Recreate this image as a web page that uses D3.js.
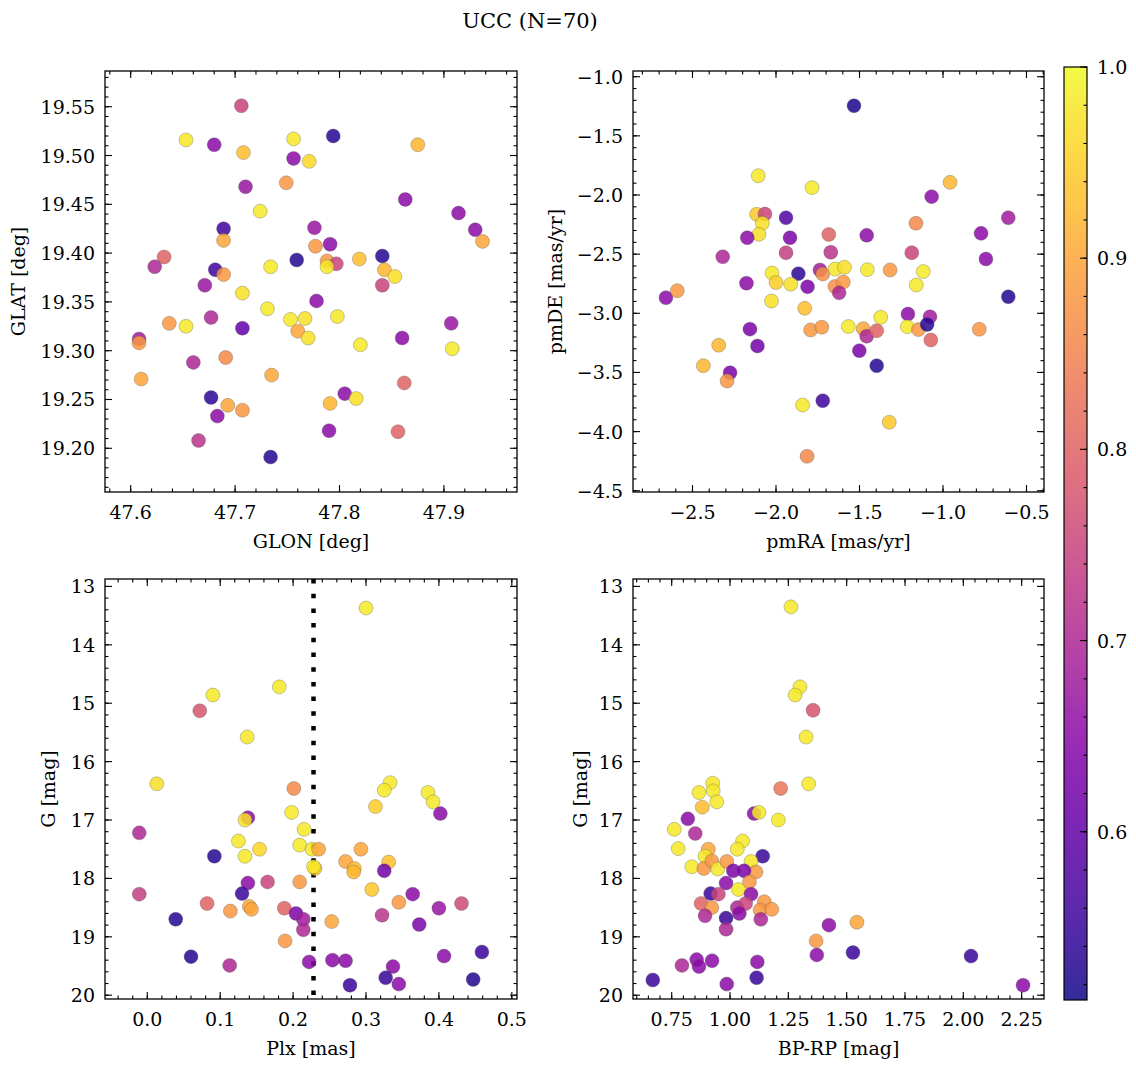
<!DOCTYPE html>
<html><head><meta charset="utf-8">
<script src="https://cdn.jsdelivr.net/npm/d3@7"></script>
<style>body{margin:0;background:#fff}svg{display:block}text{font-family:"DejaVu Serif",serif;fill:#000}</style>
</head><body><svg id="c" width="1136" height="1067"></svg>
<script>
// ---------- data ----------
const glon = [47.706,47.653,47.680,47.756,47.708,47.756,47.771,47.794,47.875,47.710,47.749,47.724,47.776,47.689,47.689,47.632,47.623,47.681,47.689,47.734,47.759,47.777,47.863,47.914,47.930,47.937,47.791,47.788,47.797,47.788,47.819,47.841,47.843,47.853,47.841,47.671,47.707,47.778,47.731,47.637,47.653,47.677,47.707,47.753,47.767,47.760,47.770,47.608,47.608,47.660,47.691,47.610,47.735,47.677,47.693,47.707,47.683,47.665,47.734,47.798,47.820,47.860,47.907,47.908,47.862,47.805,47.816,47.791,47.790,47.856];
const glat = [19.551,19.516,19.511,19.517,19.503,19.497,19.494,19.520,19.511,19.468,19.472,19.443,19.426,19.425,19.413,19.396,19.386,19.383,19.378,19.386,19.393,19.407,19.455,19.441,19.424,19.412,19.409,19.392,19.389,19.386,19.394,19.397,19.383,19.376,19.367,19.367,19.359,19.351,19.343,19.328,19.325,19.334,19.323,19.332,19.333,19.320,19.313,19.312,19.308,19.288,19.293,19.271,19.275,19.252,19.244,19.239,19.233,19.208,19.191,19.335,19.306,19.313,19.328,19.302,19.267,19.256,19.251,19.246,19.218,19.217];
const probPos = [0.75,0.98,0.65,0.98,0.93,0.65,0.96,0.53,0.92,0.67,0.88,0.98,0.67,0.56,0.9,0.8,0.7,0.56,0.88,0.98,0.53,0.88,0.65,0.65,0.65,0.9,0.65,0.88,0.75,0.98,0.93,0.53,0.92,0.97,0.75,0.67,0.97,0.65,0.98,0.88,0.98,0.7,0.6,0.98,0.97,0.9,0.97,0.68,0.88,0.7,0.86,0.9,0.9,0.54,0.9,0.88,0.65,0.72,0.53,0.98,0.98,0.65,0.67,0.98,0.8,0.65,0.97,0.92,0.65,0.8];

const pmra = [-1.533,-2.106,-1.784,-0.958,-1.068,-0.609,-2.116,-2.066,-2.082,-2.102,-2.172,-1.940,-1.916,-1.940,-2.319,-1.684,-1.457,-1.162,-0.772,-1.672,-1.187,-0.743,-2.024,-2.000,-1.866,-1.912,-1.811,-2.177,-1.737,-1.720,-1.646,-1.590,-1.647,-1.597,-1.622,-1.453,-1.317,-1.118,-1.160,-2.027,-1.828,-2.659,-2.591,-2.156,-2.111,-2.343,-1.793,-1.726,-1.567,-1.478,-1.457,-1.397,-1.373,-1.210,-1.214,-1.147,-1.078,-1.095,-1.073,-1.501,-0.609,-1.397,-0.783,-1.841,-1.720,-1.322,-1.814,-2.435,-2.275,-2.293];
const pmde = [-1.245,-1.837,-1.938,-1.893,-2.014,-2.192,-2.163,-2.161,-2.239,-2.332,-2.361,-2.192,-2.361,-2.488,-2.522,-2.334,-2.341,-2.239,-2.324,-2.484,-2.488,-2.541,-2.659,-2.740,-2.665,-2.754,-2.775,-2.746,-2.634,-2.668,-2.626,-2.611,-2.773,-2.735,-2.827,-2.631,-2.634,-2.647,-2.761,-2.896,-2.958,-2.868,-2.809,-3.134,-3.276,-3.270,-3.141,-3.118,-3.112,-3.130,-3.194,-3.147,-3.034,-3.006,-3.113,-3.138,-3.029,-3.095,-3.226,-3.316,-2.860,-3.443,-3.135,-3.775,-3.739,-3.921,-4.209,-3.443,-3.502,-3.572];
const probPm = [0.52,0.98,0.98,0.92,0.65,0.68,0.94,0.75,0.97,0.97,0.65,0.58,0.63,0.74,0.7,0.8,0.65,0.86,0.65,0.72,0.75,0.65,0.98,0.95,0.54,0.97,0.63,0.65,0.68,0.87,0.98,0.97,0.87,0.88,0.7,0.98,0.88,0.98,0.98,0.97,0.93,0.65,0.88,0.63,0.62,0.92,0.88,0.88,0.98,0.9,0.7,0.8,0.98,0.65,0.98,0.88,0.68,0.53,0.8,0.63,0.53,0.53,0.88,0.98,0.56,0.94,0.86,0.92,0.63,0.88];

const plx = [0.300,0.072,0.090,0.181,0.137,0.013,0.201,-0.011,0.138,0.134,0.198,0.215,0.125,0.154,0.134,0.092,0.209,0.226,0.235,0.230,0.228,-0.011,0.138,0.130,0.165,0.209,0.082,0.114,0.140,0.143,0.188,0.204,0.214,0.214,0.189,0.039,0.060,0.113,0.222,0.333,0.325,0.385,0.392,0.402,0.313,0.293,0.272,0.284,0.283,0.331,0.325,0.308,0.364,0.345,0.400,0.431,0.322,0.373,0.253,0.254,0.272,0.337,0.327,0.345,0.278,0.407,0.459,0.447];
const gPlx = [13.37,15.13,14.86,14.72,15.58,16.38,16.46,17.22,16.96,17.00,16.87,17.16,17.36,17.50,17.62,17.62,17.43,17.50,17.50,17.83,17.80,18.27,18.08,18.26,18.06,18.06,18.43,18.56,18.48,18.53,18.51,18.60,18.70,18.88,19.07,18.70,19.34,19.49,19.43,16.36,16.49,16.53,16.69,16.89,16.77,17.50,17.71,17.83,17.89,17.72,17.87,18.19,18.27,18.41,18.51,18.43,18.63,18.79,18.74,19.40,19.41,19.51,19.70,19.81,19.83,19.33,19.26,19.73];
const probPlx = [0.98,0.78,0.98,0.98,0.98,0.97,0.86,0.7,0.65,0.97,0.98,0.98,0.98,0.96,0.98,0.53,0.98,0.98,0.9,0.94,0.98,0.74,0.65,0.55,0.75,0.88,0.8,0.88,0.9,0.9,0.8,0.63,0.68,0.7,0.88,0.53,0.53,0.7,0.65,0.98,0.98,0.98,0.98,0.65,0.95,0.9,0.9,0.93,0.92,0.93,0.62,0.94,0.65,0.88,0.67,0.76,0.72,0.63,0.9,0.65,0.65,0.65,0.55,0.65,0.55,0.65,0.55,0.53];
const plxCut = 0.228;

const bprp = [0.926,0.867,0.928,0.943,0.881,1.217,1.337,1.103,1.124,1.207,0.819,0.761,0.851,1.054,1.031,0.778,0.907,0.893,1.140,0.836,0.888,0.922,0.947,0.986,1.090,1.111,1.014,1.060,1.083,0.983,1.036,1.090,0.917,0.950,0.876,0.922,0.893,1.031,1.067,1.040,1.147,1.129,1.179,1.132,0.983,0.983,1.369,1.372,1.117,1.114,0.986,0.857,0.867,0.923,0.794,0.669,1.261,1.300,1.279,1.356,1.326,1.544,1.424,1.527,2.033,2.256];
const gCmd = [16.37,16.53,16.50,16.69,16.78,16.46,16.38,16.89,16.87,17.00,16.98,17.16,17.23,17.36,17.50,17.49,17.50,17.62,17.62,17.80,17.83,17.70,17.84,17.71,17.71,17.89,17.87,17.87,18.06,18.08,18.19,18.27,18.26,18.27,18.43,18.50,18.64,18.50,18.43,18.60,18.40,18.54,18.53,18.70,18.68,18.87,19.07,19.31,19.43,19.70,19.81,19.39,19.51,19.41,19.49,19.74,13.35,14.72,14.86,15.12,15.58,18.75,18.80,19.27,19.33,19.83];
const probCmd = [0.98,0.98,0.98,0.98,0.93,0.83,0.98,0.65,0.98,0.98,0.65,0.98,0.7,0.98,0.98,0.98,0.9,0.98,0.55,0.98,0.88,0.88,0.98,0.88,0.98,0.88,0.63,0.63,0.88,0.65,0.98,0.65,0.55,0.75,0.8,0.88,0.7,0.7,0.75,0.65,0.88,0.88,0.88,0.7,0.55,0.7,0.88,0.65,0.65,0.55,0.65,0.65,0.65,0.65,0.7,0.55,0.98,0.98,0.98,0.78,0.98,0.9,0.65,0.55,0.55,0.65];

const cbTicks = [0.6,0.7,0.8,0.9,1.0];
const titleText = "UCC (N=70)";

// ---------- drawing ----------
const svg = d3.select("#c");
const pMin = 0.512, pMax = 1.0;
const cmap = d3.scaleSequential(d3.interpolatePlasma).domain([pMin, pMax]);
const FS = 19;

function steps(lo, hi, step){
  const a = Math.ceil(lo/step - 1e-6), b = Math.floor(hi/step + 1e-6), out=[];
  for(let i=a;i<=b;i++) out.push(+(i*step).toFixed(6));
  return out;
}

function panel(o){
  const g = svg.append("g");
  const x = d3.scaleLinear().domain(o.xd).range([o.x0, o.x1]);
  const y = d3.scaleLinear().domain(o.yd).range([o.y1, o.y0]);
  if (o.vline !== undefined){
    g.append("line").attr("x1", x(o.vline)).attr("x2", x(o.vline))
      .attr("y1", o.y0).attr("y2", o.y1)
      .attr("stroke","#000").attr("stroke-width",4.5).attr("stroke-dasharray","4.5,10.2");
  }
  g.append("g").selectAll("circle").data(d3.range(o.xs.length)).join("circle")
    .attr("cx", i=>x(o.xs[i])).attr("cy", i=>y(o.ys[i])).attr("r", 7)
    .attr("fill", i=>cmap(o.ps[i])).attr("fill-opacity", 0.85)
    .attr("stroke", "#555").attr("stroke-opacity", 0.55).attr("stroke-width", 0.6);
  g.append("rect").attr("x",o.x0).attr("y",o.y0).attr("width",o.x1-o.x0).attr("height",o.y1-o.y0)
    .attr("fill","none").attr("stroke","#000").attr("stroke-width",1.3);
  const xlo=Math.min(...o.xd), xhi=Math.max(...o.xd), ylo=Math.min(...o.yd), yhi=Math.max(...o.yd);
  const tk = g.append("g").attr("stroke","#000").attr("stroke-width",1.1);
  const drawX = (vals, len) => vals.forEach(v=>{
    const px=x(v);
    tk.append("line").attr("x1",px).attr("x2",px).attr("y1",o.y1).attr("y2",o.y1-len);
    tk.append("line").attr("x1",px).attr("x2",px).attr("y1",o.y0).attr("y2",o.y0+len);
  });
  const drawY = (vals, len) => vals.forEach(v=>{
    const py=y(v);
    tk.append("line").attr("y1",py).attr("y2",py).attr("x1",o.x0).attr("x2",o.x0+len);
    tk.append("line").attr("y1",py).attr("y2",py).attr("x1",o.x1).attr("x2",o.x1-len);
  });
  const xMaj = steps(xlo, xhi, o.xStep), yMaj = steps(ylo, yhi, o.yStep);
  drawX(steps(xlo, xhi, o.xStep/5), 3.5); drawX(xMaj, 7);
  drawY(steps(ylo, yhi, o.yStep/5), 3.5); drawY(yMaj, 7);
  const fx = d3.format(o.xFmt), fy = d3.format(o.yFmt);
  g.append("g").selectAll("text").data(xMaj).join("text")
    .attr("x", d=>x(d)).attr("y", o.y1+27).attr("text-anchor","middle").attr("font-size",FS).text(d=>fx(d));
  g.append("g").selectAll("text").data(yMaj).join("text")
    .attr("x", o.x0-10).attr("y", d=>y(d)+7).attr("text-anchor","end").attr("font-size",FS).text(d=>fy(d));
  g.append("text").attr("x",(o.x0+o.x1)/2).attr("y",o.y1+56).attr("text-anchor","middle")
    .attr("font-size",FS).text(o.xlabel);
  g.append("text").attr("transform",`translate(${o.ylx},${(o.y0+o.y1)/2}) rotate(-90)`)
    .attr("text-anchor","middle").attr("font-size",FS).text(o.ylabel);
}

panel({x0:105,x1:517,y0:71,y1:492, xd:[47.5754,47.970], yd:[19.1552,19.5866],
  xStep:0.1, yStep:0.05, xFmt:".1f", yFmt:".2f", xs:glon, ys:glat, ps:probPos,
  xlabel:"GLON [deg]", ylabel:"GLAT [deg]", ylx:25});
panel({x0:633,x1:1044,y0:71,y1:492, xd:[-2.8563,-0.3952], yd:[-4.5106,-0.9518],
  xStep:0.5, yStep:0.5, xFmt:".1f", yFmt:".1f", xs:pmra, ys:pmde, ps:probPm,
  xlabel:"pmRA [mas/yr]", ylabel:"pmDE [mas/yr]", ylx:562});
panel({x0:105,x1:517,y0:579,y1:999, xd:[-0.058,0.5071], yd:[20.065,12.873],
  xStep:0.1, yStep:1, xFmt:".1f", yFmt:"d", xs:plx, ys:gPlx, ps:probPlx, vline:plxCut,
  xlabel:"Plx [mas]", ylabel:"G [mag]", ylx:55});
panel({x0:633,x1:1044,y0:579,y1:999, xd:[0.5841,2.3458], yd:[20.065,12.873],
  xStep:0.25, yStep:1, xFmt:".2f", yFmt:"d", xs:bprp, ys:gCmd, ps:probCmd,
  xlabel:"BP-RP [mag]", ylabel:"G [mag]", ylx:587});

// colorbar
const cb = {x0:1064, x1:1087, y0:67, y1:1000};
const cy = d3.scaleLinear().domain([pMin,pMax]).range([cb.y1, cb.y0]);
const defs = svg.append("defs");
const grad = defs.append("linearGradient").attr("id","cbg").attr("x1",0).attr("x2",0).attr("y1",1).attr("y2",0);
d3.range(0,1.0001,0.02).forEach(t=>grad.append("stop").attr("offset",t).attr("stop-color",d3.interpolatePlasma(t)));
svg.append("rect").attr("x",cb.x0).attr("y",cb.y0).attr("width",cb.x1-cb.x0).attr("height",cb.y1-cb.y0)
  .attr("fill","url(#cbg)").attr("fill-opacity",0.85);
svg.append("rect").attr("x",cb.x0).attr("y",cb.y0).attr("width",cb.x1-cb.x0).attr("height",cb.y1-cb.y0)
  .attr("fill","none").attr("stroke","#000").attr("stroke-width",1.2);
const cbt = svg.append("g").attr("stroke","#000").attr("stroke-width",1.1);
steps(pMin,pMax,0.02).forEach(v=>cbt.append("line").attr("x1",cb.x1).attr("x2",cb.x1-3.5).attr("y1",cy(v)).attr("y2",cy(v)));
cbTicks.forEach(v=>cbt.append("line").attr("x1",cb.x1).attr("x2",cb.x1-7).attr("y1",cy(v)).attr("y2",cy(v)));
svg.append("g").selectAll("text").data(cbTicks).join("text")
  .attr("x",cb.x1+10).attr("y",d=>cy(d)+7).attr("font-size",FS).text(d=>d3.format(".1f")(d));

svg.append("text").attr("x",530).attr("y",28).attr("text-anchor","middle").attr("font-size",21).text(titleText);
</script>
</body></html>
